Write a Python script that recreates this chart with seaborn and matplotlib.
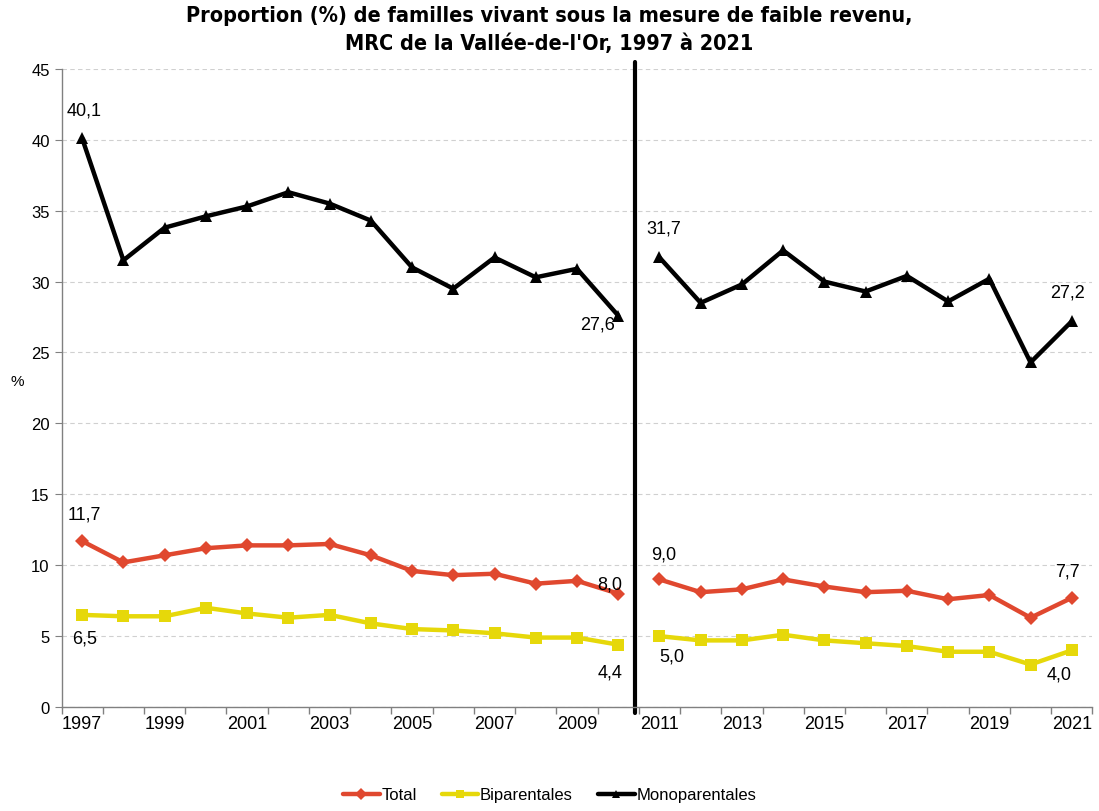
import pandas as pd
import numpy as np
import matplotlib
matplotlib.use("Agg")
import matplotlib.pyplot as plt
import seaborn as sns

# data
annees = list(range(1997, 2022))
total = [11.7, 10.2, 10.7, 11.2, 11.4, 11.4, 11.5, 10.7, 9.6, 9.3, 9.4, 8.7, 8.9, 8.0,
         9.0, 8.1, 8.3, 9.0, 8.5, 8.1, 8.2, 7.6, 7.9, 6.3, 7.7]
biparentales = [6.5, 6.4, 6.4, 7.0, 6.6, 6.3, 6.5, 5.9, 5.5, 5.4, 5.2, 4.9, 4.9, 4.4,
                5.0, 4.7, 4.7, 5.1, 4.7, 4.5, 4.3, 3.9, 3.9, 3.0, 4.0]
monoparentales = [40.1, 31.5, 33.8, 34.6, 35.3, 36.3, 35.5, 34.3, 31.0, 29.5, 31.7, 30.3, 30.9, 27.6,
                  31.7, 28.5, 29.8, 32.2, 30.0, 29.3, 30.4, 28.6, 30.2, 24.3, 27.2]
series = ["Total", "Biparentales", "Monoparentales"]
couleurs = {"Total": "#E0482F", "Biparentales": "#E6D80A", "Monoparentales": "#000000"}
marqueurs = {"Total": "D", "Biparentales": "s", "Monoparentales": "^"}

rows = []
for nom, vals in zip(series, [total, biparentales, monoparentales]):
    for a, v in zip(annees, vals):
        rows.append({"annee": a, "valeur": v, "serie": nom,
                     "periode": "1997-2010" if a <= 2010 else "2011-2021"})
df = pd.DataFrame(rows)

sns.set_style("white")
plt.rcParams['font.family'] = ['Liberation Sans', 'DejaVu Sans']
plt.rcParams['text.color'] = 'black'
plt.rcParams['xtick.color'] = 'black'
plt.rcParams['ytick.color'] = 'black'
plt.rcParams['axes.labelcolor'] = 'black'

fig = plt.figure(figsize=(10.99, 8.12), dpi=100)
ax = fig.add_axes([0.056, 0.128, 0.938, 0.786])

for nom in series:
    d = df[df["serie"] == nom]
    sns.lineplot(data=d, x="annee", y="valeur", units="periode", estimator=None,
                 color=couleurs[nom], marker=marqueurs[nom], lw=3.2,
                 markersize=9 if nom != "Total" else 7.5, markeredgewidth=0,
                 ax=ax, label=None, legend=False)

ax.set_xlim(1996.5, 2021.5)
ax.set_ylim(0, 45)
ax.set_yticks(range(0, 46, 5))
ax.set_xticks(range(1997, 2022, 2))
ax.set_xticks(np.arange(1996.5, 2021.6, 1), minor=True)
ax.tick_params(axis="x", which="major", length=0, labelsize=13, pad=6)
ax.tick_params(axis="x", which="minor", length=5, color="#808080", width=1, bottom=True)
ax.tick_params(axis="y", length=5, color="#808080", labelcolor="black", labelsize=12, left=True)
ax.grid(axis="y", ls=(0, (4, 3)), color="#D0D0D0", lw=0.8)
ax.set_axisbelow(True)
for s in ["top", "right"]:
    ax.spines[s].set_visible(False)
for s in ["left", "bottom"]:
    ax.spines[s].set_color("#808080")
    ax.spines[s].set_linewidth(1)
ax.set_xlabel("")
ax.set_ylabel("%", rotation=0, fontsize=11, labelpad=22)
ax.yaxis.set_label_coords(-0.043, 0.5)

# vertical break line
ax.plot([2010.4, 2010.4], [-0.4, 45.5], color="black", lw=3, clip_on=False)

# data labels
fs = 13
def lab(txt, x, y, ha="center"):
    ax.text(x, y, txt, fontsize=fs, ha=ha, va="center")

lab("40,1", 1997.05, 42.1)
lab("27,6", 2009.5, 27.0)
lab("31,7", 2011.1, 33.8)
lab("27,2", 2020.9, 29.3)
lab("11,7", 1997.05, 13.6)
lab("8,0", 2009.8, 8.7)
lab("9,0", 2011.1, 10.8)
lab("7,7", 2020.9, 9.6)
lab("6,5", 1997.05, 4.9)
lab("4,4", 2009.8, 2.5)
lab("5,0", 2011.3, 3.6)
lab("4,0", 2020.7, 2.3)

fig.suptitle("Proportion (%) de familles vivant sous la mesure de faible revenu,\n"
             "MRC de la Vallée-de-l'Or, 1997 à 2021",
             fontsize=15.5, fontweight="bold", y=0.993, linespacing=1.5,
             family=['DejaVu Sans'], fontstretch="condensed", color="black")

handles = [plt.Line2D([], [], color=couleurs[n], marker=marqueurs[n], lw=3.2,
                      markersize=6, markeredgewidth=0) for n in series]
fig.legend(handles, series, loc="lower center", ncol=3, frameon=False,
           fontsize=12, bbox_to_anchor=(0.5, -0.008), handlelength=2.2,
           handletextpad=0.1, columnspacing=1.5)

fig.savefig("out.png", dpi=100)
